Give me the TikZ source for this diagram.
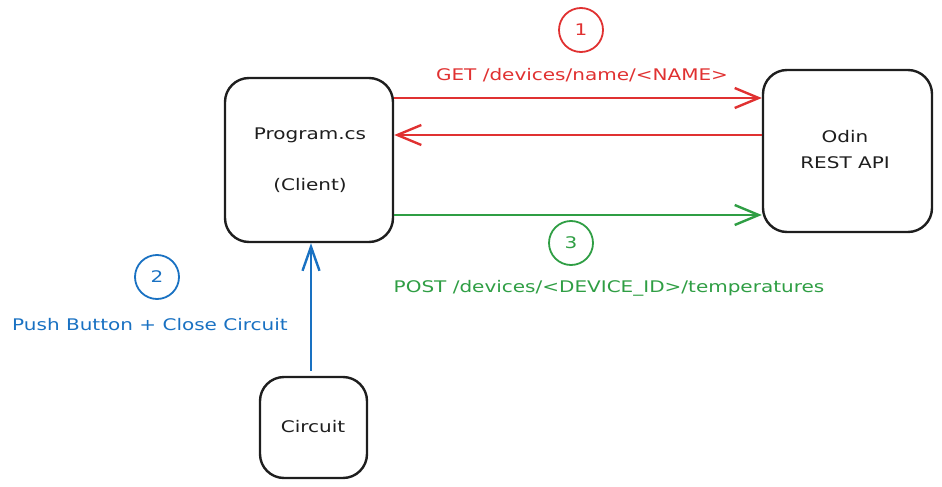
\documentclass[tikz,border=0pt]{standalone}
\usepackage{fontspec}
\usetikzlibrary{arrows.meta}
\newfontfamily\hand[FakeStretch=1.25]{DejaVu Sans}
\definecolor{ink}{HTML}{1E1E1E}
\definecolor{xred}{HTML}{E03131}
\definecolor{xgreen}{HTML}{2F9E44}
\definecolor{xblue}{HTML}{1971C2}
\begin{document}
\begin{tikzpicture}[x=1pt,y=-1pt,
  box/.style={draw=ink,line width=2.4pt,rounded corners=24pt,inner sep=0pt},
  txt/.style={font=\hand\fontsize{16}{26}\selectfont,inner sep=0pt},
  num/.style={circle,draw,line width=1.8pt,minimum size=44pt,inner sep=0pt,font=\hand\fontsize{16}{18}\selectfont},
  conn/.style={line width=2.4pt,-{Straight Barb[length=24pt,width=20pt,line width=2.4pt]}}]
\useasboundingbox (0,0) rectangle (942,487);
\node[box,minimum width=168pt,minimum height=164pt] (prog) at (309,160) {};
\node[box,minimum width=169pt,minimum height=162pt] (odin) at (847.5,151) {};
\node[box,minimum width=107pt,minimum height=101pt] (circ) at (313.5,427.5) {};
\node[txt,text=ink] (progt) at (310,135) {Program.cs};
\node[txt,text=ink] (clientt) at (310,185) {(Client)};
\node[txt,text=ink,align=center] (odint) at (845,150) {Odin\\REST API};
\node[txt,text=ink] (circt) at (313,427) {Circuit};
\node[num,draw=xred,text=xred] (n1) at (581,30) {1};
\node[num,draw=xgreen,text=xgreen] (n3) at (571,243) {3};
\node[num,draw=xblue,text=xblue] (n2) at (157,277) {2};
\node[txt,text=xred] (getl) at (582,75) {GET /devices/name/<NAME>};
\node[txt,text=xgreen] (postl) at (609,288) {POST /devices/<DEVICE\_ID>/temperatures};
\node[txt,text=xblue] (pushl) at (150,325) {Push Button + Close Circuit};
\draw[conn,xred] (prog.east |- 0,98) -- (odin.west |- 0,98);
\draw[conn,xred] (odin.west |- 0,135) -- (prog.east |- 0,135);
\draw[conn,xgreen] (prog.east |- 0,215) -- (odin.west |- 0,215);
\draw[conn,xblue,-{Straight Barb[length=24pt,width=17pt,line width=2.4pt]}] (circ.north -| 311,0) ++(0,-5) -- (prog.south -| 311,0);
\end{tikzpicture}
\end{document}
